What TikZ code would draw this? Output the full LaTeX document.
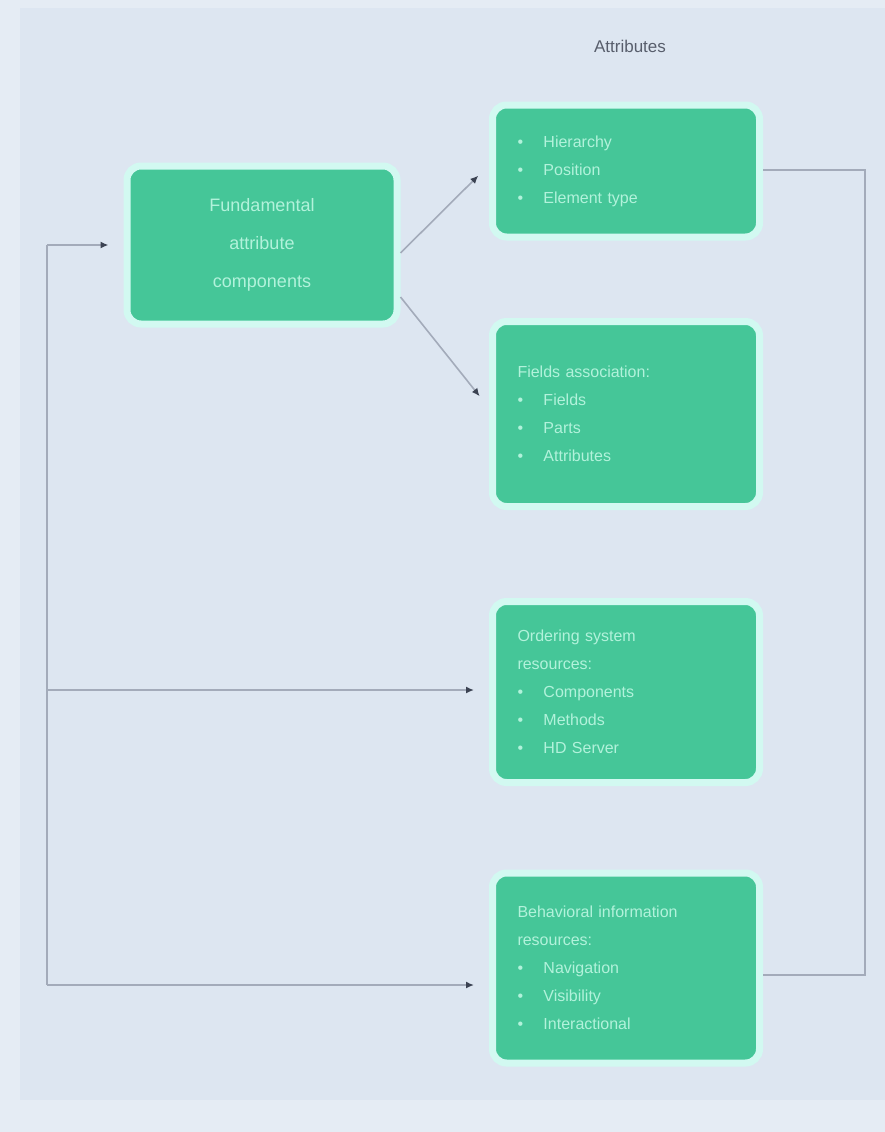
\documentclass[tikz,border=0pt]{standalone}
\usepackage{fontspec}
\setmainfont{Liberation Sans}
\usepackage{xcolor}
\usetikzlibrary{arrows.meta,calc}
\definecolor{bgblue}{HTML}{DDE6F1}
\definecolor{bgedge}{HTML}{E5ECF4}
\definecolor{boxgreen}{HTML}{45C698}
\definecolor{boxglow}{HTML}{D2F9F1}
\definecolor{boxtext}{HTML}{B2F2DB}
\definecolor{linegray}{HTML}{A3ABBA}
\definecolor{tipdark}{HTML}{3B4252}
\newcommand{\itm}[1]{\makebox[26pt][l]{\textbullet}#1}
\tikzset{
	attrbox/.style={
			draw=boxglow, line width=7pt, fill=boxgreen, rounded corners=14pt,
			text=boxtext, font=\fontsize{16}{28}\selectfont,
			minimum width=267pt, text width=217pt, align=left, inner xsep=25pt
		},
	link/.style={
			draw=linegray, line width=1.6pt,
			-{Latex[length=8pt,width=7pt,color=tipdark]}, shorten >=15pt
		},
	loop/.style={draw=linegray, line width=1.6pt}
}

\begin{document}
\begin{tikzpicture}[x=1pt,y=-1pt]
			\useasboundingbox (0,0) rectangle (885,1132);
			\fill[bgedge] (0,0) rectangle (885,1132);
			\fill[bgblue] (20,8) rectangle (885,1100);

			\node[font=\fontsize{17}{20}\selectfont, text=tipdark!85] (title) at (630,46) {Attributes};

			\node[attrbox, minimum width=270pt, minimum height=158pt, align=center,
				font=\fontsize{18}{38}\selectfont] (main) at (262,245)
				{Fundamental\\attribute\\components};

			\node[attrbox, minimum height=132pt] (hier) at (626,171)
				{\itm{Hierarchy}\\\itm{Position}\\\itm{Element type}};
			\node[attrbox, minimum height=185pt] (fields) at (626,414)
				{Fields association:\\\itm{Fields}\\\itm{Parts}\\\itm{Attributes}};
			\node[attrbox, minimum height=181pt] (order) at (626,692)
				{Ordering system\\resources:\\\itm{Components}\\\itm{Methods}\\\itm{HD Server}};
			\node[attrbox, minimum height=190pt] (behav) at (626,968)
				{Behavioral information\\resources:\\\itm{Navigation}\\\itm{Visibility}\\\itm{Interactional}};

			% outgoing from the fundamental box
			\draw[link] ([yshift=-8pt]main.east) -- ([yshift=6pt]hier.west);
			\draw[link] ([yshift=-52pt]main.east) -- ([yshift=6pt]fields.west);

			% left feedback rail
			\coordinate (railtop) at (47,245);
			\coordinate (railmid) at (47,690);
			\coordinate (railbot) at (47,985);
			\draw[loop] (railtop) -- (railbot);
			\draw[link] (railtop) -- (main.west);
			\draw[link] (railmid) -- (railmid -| order.west);
			\draw[link] (railbot) -- (railbot -| behav.west);

			% right return rail
			\coordinate (rightup) at (865,170);
			\coordinate (rightdn) at (865,975);
			\draw[loop] (hier.east |- rightup) -- (rightup) -- (rightdn) -- (behav.east |- rightdn);
		\end{tikzpicture}
\end{document}
